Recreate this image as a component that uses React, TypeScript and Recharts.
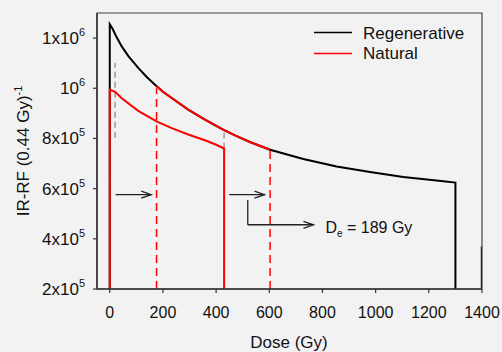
import { LineChart, Line, XAxis, YAxis, ReferenceLine, ReferenceArea, Legend } from "recharts";

// Regenerative dose response (dose in Gy, IR-RF counts)
const regenDose = [0, 0, 10, 25, 45, 70, 107, 140, 170, 200, 233, 295, 358, 421, 471, 527, 603, 728, 853, 979, 1104, 1229, 1300, 1300];
const regenValue = [200000, 1255000, 1238000, 1205000, 1167000, 1128000, 1081000, 1044000, 1014000, 986000, 961000, 915000, 875000, 838000, 812000, 786000, 755000, 718000, 688000, 666000, 646000, 632000, 624000, 200000];

// Natural curve
const naturalDose = [0, 0, 20, 45, 107, 176, 233, 295, 358, 400, 430, 430];
const naturalValue = [200000, 994000, 986000, 960000, 910000, 868000, 841000, 816000, 793000, 775000, 760000, 200000];

// natural curve slid onto the regenerative one
const shiftedDose = [176, 200, 233, 295, 358, 421, 471, 527, 603];
const shiftedValue = [1008000, 986000, 961000, 915000, 875000, 838000, 812000, 786000, 755000];

// vertical guide lines
const redDash1 = { dose: 176, from: 200000, to: 1000000 };
const redDash2 = { dose: 603, from: 200000, to: 755000 };
const greyDash1 = { dose: 20, from: 803000, to: 1102000 };
const greyDash2 = { dose: 430, from: 760000, to: 832000 };
const edgeMark = { dose: 1400, from: 200000, to: 369000 };

const xTicks = [0, 200, 400, 600, 800, 1000, 1200, 1400];
const yTicks = [200000, 400000, 600000, 800000, 1000000, 1200000];
const yTickBase = ["2x10", "4x10", "6x10", "8x10", "10", "1x10"];
const yTickExp = ["5", "5", "5", "5", "6", "6"];

const seriesNames = ["Regenerative", "Natural"];
const seriesColors = ["#000000", "#ff0000"];

const arrowLevel = 576000;
const arrow1 = [22, 156];
const arrow2 = [449, 582];
const bentX = 519;
const bentTop = 555000;
const bentBottom = 456000;
const bentEnd = 766;
const deText = "189 Gy";

const FONT = "'Liberation Sans', Arial, sans-serif";

const toPoints = (xs: number[], ys: number[]) => xs.map((x, i) => ({ x, y: ys[i] }));
const vline = (v: { dose: number; from: number; to: number }) => [
  { x: v.dose, y: v.from },
  { x: v.dose, y: v.to },
];

const XTick = (props: any) => {
  const { x, y, payload } = props;
  return (
    <text x={x} y={y + 25} textAnchor="middle" fontSize={16} fontFamily={FONT} fill="#111">
      {payload.value}
    </text>
  );
};

const YTick = (props: any) => {
  const { x, y, payload } = props;
  const i = yTicks.indexOf(payload.value);
  return (
    <text x={x} y={y + 6} textAnchor="end" fontSize={17} fontFamily={FONT} fill="#111">
      <tspan>{yTickBase[i]}</tspan>
      <tspan dy={-8} fontSize={11}>{yTickExp[i]}</tspan>
    </text>
  );
};

const arrowShape = (withHead: boolean, label?: boolean) => (props: any) => {
  const { x1, y1, x2, y2 } = props;
  return (
    <g>
      <line x1={x1} y1={y1} x2={x2} y2={y2} stroke="#222" strokeWidth={1.3} />
      {withHead && (
        <polyline
          points={`${x2 - 10},${y2 - 3.5} ${x2},${y2} ${x2 - 10},${y2 + 3.5}`}
          fill="none"
          stroke="#222"
          strokeWidth={1.3}
        />
      )}
      {label && (
        <text x={x2 + 12} y={y2 + 8} fontSize={16} fontFamily={FONT} fill="#111">
          <tspan>D</tspan>
          <tspan dy={4} fontSize={10}>e</tspan>
          <tspan dy={-4}>{" = " + deText}</tspan>
        </text>
      )}
    </g>
  );
};

const LegendBox = () => (
  <svg width={502} height={70} style={{ display: "block" }}>
    {seriesNames.map((name, i) => (
      <g key={name}>
        <line x1={314} x2={352} y1={32.5 + i * 21} y2={32.5 + i * 21} stroke={seriesColors[i]} strokeWidth={1.5} />
        <text x={363} y={38.5 + i * 20} fontSize={17} fontFamily={FONT} fill="#111">
          {name}
        </text>
      </g>
    ))}
  </svg>
);

export default function App() {
  return (
    <div style={{ width: 502, height: 352, background: "#f2f2f2" }}>
      <style>{"body{margin:0;background:#f2f2f2}"}</style>
      <LineChart width={502} height={352} margin={{ top: 13, right: 20, left: 0, bottom: 0 }}>
        <XAxis
          type="number"
          dataKey="x"
          domain={[-48, 1400]}
          ticks={xTicks}
          allowDataOverflow
          height={63}
          tickSize={4}
          tickMargin={0}
          tick={XTick}
          axisLine={{ stroke: "#333", strokeWidth: 1.5 }}
          tickLine={{ stroke: "#333", strokeWidth: 1.2 }}
          label={{
            content: () => (
              <text x={289} y={348} textAnchor="middle" fontSize={17} fontFamily={FONT} fill="#111">
                Dose (Gy)
              </text>
            ),
          }}
        />
        <YAxis
          type="number"
          dataKey="y"
          domain={[200000, 1300000]}
          ticks={yTicks}
          allowDataOverflow
          width={97}
          tickSize={4}
          tickMargin={8}
          tick={YTick}
          axisLine={{ stroke: "#333", strokeWidth: 1.5 }}
          tickLine={{ stroke: "#333", strokeWidth: 1.2 }}
          label={{
            content: () => (
              <text
                x={28.5}
                y={151}
                transform="rotate(-90, 28.5, 151)"
                textAnchor="middle"
                fontSize={17}
                fontFamily={FONT}
                fill="#111"
              >
                <tspan>IR-RF (0.44 Gy)</tspan>
                <tspan dy={-7} fontSize={11}>-1</tspan>
              </text>
            ),
          }}
        />
        <ReferenceArea x1={-48} x2={1400} y1={200000} y2={1300000} fill="none" stroke="#444" strokeWidth={1.2} />
        <Legend
          layout="vertical"
          align="center"
          verticalAlign="middle"
          wrapperStyle={{ left: 0, top: 0, width: 502 }}
          content={LegendBox}
        />
        <Line data={vline(greyDash1)} dataKey="y" stroke="#9a9a9a" strokeWidth={1.5} strokeDasharray="6 4" dot={false} activeDot={false} isAnimationActive={false} legendType="none" />
        <Line data={vline(greyDash2)} dataKey="y" stroke="#9a9a9a" strokeWidth={1.5} strokeDasharray="6 4" dot={false} activeDot={false} isAnimationActive={false} legendType="none" />
        <Line data={toPoints(regenDose, regenValue)} dataKey="y" name={seriesNames[0]} stroke="#000" strokeWidth={2} dot={false} activeDot={false} isAnimationActive={false} />
        <Line data={toPoints(naturalDose, naturalValue)} dataKey="y" name={seriesNames[1]} stroke="#ff0000" strokeWidth={2} dot={false} activeDot={false} isAnimationActive={false} />
        <Line data={toPoints(shiftedDose, shiftedValue)} dataKey="y" stroke="#ff0000" strokeWidth={2} dot={false} activeDot={false} isAnimationActive={false} legendType="none" />
        <Line data={vline(redDash1)} dataKey="y" stroke="#ff0000" strokeWidth={1.5} strokeDasharray="8 5" dot={false} activeDot={false} isAnimationActive={false} legendType="none" />
        <Line data={vline(redDash2)} dataKey="y" stroke="#ff0000" strokeWidth={1.5} strokeDasharray="8 5" dot={false} activeDot={false} isAnimationActive={false} legendType="none" />
        <Line data={vline(edgeMark)} dataKey="y" stroke="#222" strokeWidth={2.5} dot={false} activeDot={false} isAnimationActive={false} legendType="none" />
        <ReferenceLine segment={[{ x: arrow1[0], y: arrowLevel }, { x: arrow1[1], y: arrowLevel }]} shape={arrowShape(true)} />
        <ReferenceLine segment={[{ x: arrow2[0], y: arrowLevel }, { x: arrow2[1], y: arrowLevel }]} shape={arrowShape(true)} />
        <ReferenceLine segment={[{ x: bentX, y: bentTop }, { x: bentX, y: bentBottom }]} shape={arrowShape(false)} />
        <ReferenceLine segment={[{ x: bentX, y: bentBottom }, { x: bentEnd, y: bentBottom }]} shape={arrowShape(true, true)} />
      </LineChart>
    </div>
  );
}
